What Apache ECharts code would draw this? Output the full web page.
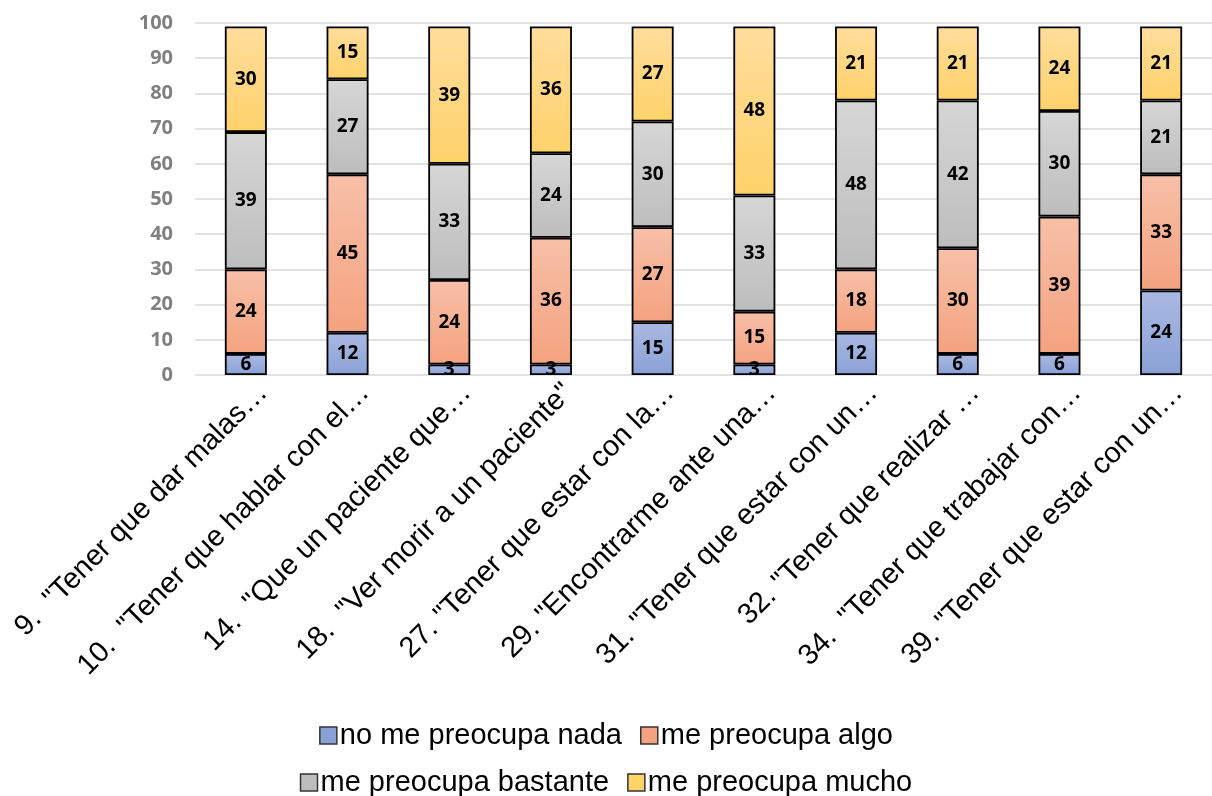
<!DOCTYPE html>
<html><head><meta charset="utf-8">
<script src="https://cdn.jsdelivr.net/npm/echarts@6/dist/echarts.min.js"></script>
<style>html,body{margin:0;padding:0;background:#fff}#c{width:1212px;height:796px}</style>
</head><body><div id="c"></div>
<script>
const categories = [
  '9.  "Tener que dar malas…',
  '10.  "Tener que hablar con el…',
  '14.  "Que un paciente que…',
  '18.  "Ver morir a un paciente"',
  '27. "Tener que estar con la…',
  '29. "Encontrarme ante una…',
  '31. "Tener que estar con un…',
  '32. "Tener que realizar …',
  '34.  "Tener que trabajar con…',
  '39. "Tener que estar con un…'
];
const seriesNames = ['no me preocupa nada','me preocupa algo','me preocupa bastante','me preocupa mucho'];
const nada      = [6, 12, 3, 3, 15, 3, 12, 6, 6, 24];
const algo      = [24, 45, 24, 36, 27, 15, 18, 30, 39, 33];
const bastante  = [39, 27, 33, 24, 30, 33, 48, 42, 30, 21];
const mucho     = [30, 15, 39, 36, 27, 48, 21, 21, 24, 21];
const yTicks = [0,10,20,30,40,50,60,70,80,90,100];

const colors = [
  ['#aab9e2','#8aa1d6'],
  ['#f7c0a8','#f4a27f'],
  ['#d6d6d6','#bdbdbd'],
  ['#ffdd9c','#ffd26a']
];
const grad = c => new echarts.graphic.LinearGradient(0,0,0,1,[{offset:0,color:c[0]},{offset:1,color:c[1]}]);
const values = [nada, algo, bastante, mucho];

const series = values.map((v,i)=>({
  name: seriesNames[i], type:'bar', stack:'s', data:v, barWidth:42,
  itemStyle:{color:grad(colors[i]), borderColor:'#000', borderWidth:1.8},
  label:{show:true, position:'inside', color:'#000', fontWeight:'bold', fontSize:19, fontFamily:'Open Sans'},
  emphasis:{disabled:true}
}));

const legendItem = i => ({name:seriesNames[i], itemStyle:{color:colors[i][1], borderColor:'#333', borderWidth:1.5}});
const legendBase = {icon:'rect', itemWidth:17, itemHeight:17, itemGap:18, left:'center',
  textStyle:{fontSize:29, color:'#000', fontFamily:'Liberation Sans', padding:[0,0,0,-2]}};

const chart = echarts.init(document.getElementById('c'));
chart.setOption({
  animation:false,
  grid:{left:195, right:-13, top:23, bottom:421, containLabel:false},
  legend:[
    Object.assign({}, legendBase, {top:716, data:[legendItem(0), legendItem(1)]}),
    Object.assign({}, legendBase, {top:763, data:[legendItem(2), legendItem(3)]})
  ],
  xAxis:{type:'category', data:categories,
    axisLine:{show:false}, axisTick:{show:false},
    axisLabel:{rotate:45, interval:0, fontSize:29, color:'#000', fontFamily:'Liberation Sans',
      margin:-4, verticalAlign:'top', padding:[10,0,0,0]}},
  yAxis:{type:'value', min:0, max:100, interval:10,
    axisLine:{show:false}, axisTick:{show:false},
    splitLine:{lineStyle:{color:'#d9d9d9', width:1.5}},
    axisLabel:{fontSize:20, fontWeight:'bold', color:'#808080', fontFamily:'Open Sans', margin:22,
      customValues: yTicks}},
  series
});
</script></body></html>
